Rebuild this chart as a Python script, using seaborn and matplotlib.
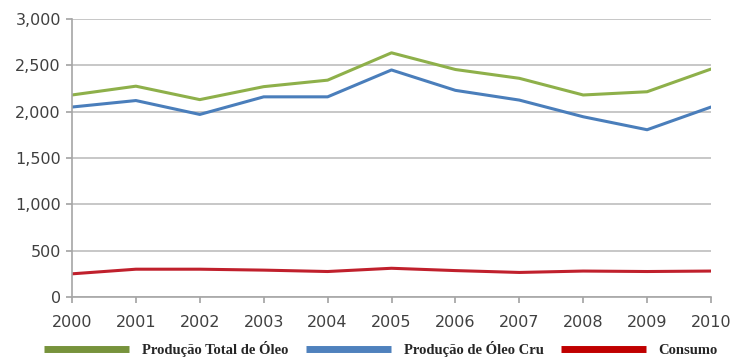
import pandas as pd
import numpy as np
import matplotlib
matplotlib.use("Agg")
import matplotlib.pyplot as plt
import seaborn as sns

sns.set_theme(style="white")

years = [2000, 2001, 2002, 2003, 2004, 2005, 2006, 2007, 2008, 2009, 2010]
producao_total = [2180, 2275, 2130, 2270, 2340, 2635, 2455, 2360, 2180, 2215, 2460]
producao_cru = [2050, 2120, 1970, 2160, 2160, 2450, 2230, 2125, 1945, 1805, 2050]
consumo = [250, 300, 300, 290, 275, 310, 285, 265, 280, 275, 280]

series_names = ["Produção Total de Óleo", "Produção de Óleo Cru", "Consumo"]
colors = ["#8eb04a", "#4a7ebb", "#c0202c"]

df = pd.DataFrame({
    "ano": years * 3,
    "valor": producao_total + producao_cru + consumo,
    "serie": [series_names[0]] * len(years) + [series_names[1]] * len(years) + [series_names[2]] * len(years),
})

fig = plt.figure(figsize=(7.33, 3.63), dpi=100)
ax = fig.add_axes([72 / 733, 1 - 297 / 363, (711 - 72) / 733, (297 - 19) / 363])

sns.lineplot(data=df, x="ano", y="valor", hue="serie", palette=colors,
             linewidth=2.2, ax=ax, legend=False)

ax.set_xlim(2000, 2010)
ax.set_ylim(0, 3000)
ax.set_xticks(years)
ax.set_yticks(range(0, 3001, 500))
ax.set_yticklabels([f"{v:,}" for v in range(0, 3001, 500)])
ax.set_xlabel("")
ax.set_ylabel("")
ax.grid(axis="y", color="#bdbdbd", linewidth=1.2)
ax.set_axisbelow(True)

for s in ["top", "right"]:
    ax.spines[s].set_visible(False)
ax.spines["left"].set_color("#a6a6a6")
ax.spines["bottom"].set_color("#a6a6a6")
ax.spines["left"].set_linewidth(1.2)
ax.spines["bottom"].set_linewidth(1.2)
ax.tick_params(axis="x", bottom=True, length=4, color="#a6a6a6", colors="#404040",
               labelsize=11.5, pad=9)
ax.tick_params(axis="y", left=True, length=4, color="#a6a6a6", colors="#404040",
               labelsize=11.5, pad=4)

handles = [plt.Line2D([], [], color=c, linewidth=5, solid_capstyle="butt")
           for c in ["#77933c", "#4f81bd", "#c00000"]]
fig.legend(handles, series_names, loc="lower center", bbox_to_anchor=(0.52, -0.02), ncol=3,
           frameon=False, handlelength=5.8, columnspacing=1.2, handletextpad=0.9,
           prop={"family": "Liberation Serif", "weight": "bold", "size": 10.5})

fig.savefig("out.png", dpi=100)
